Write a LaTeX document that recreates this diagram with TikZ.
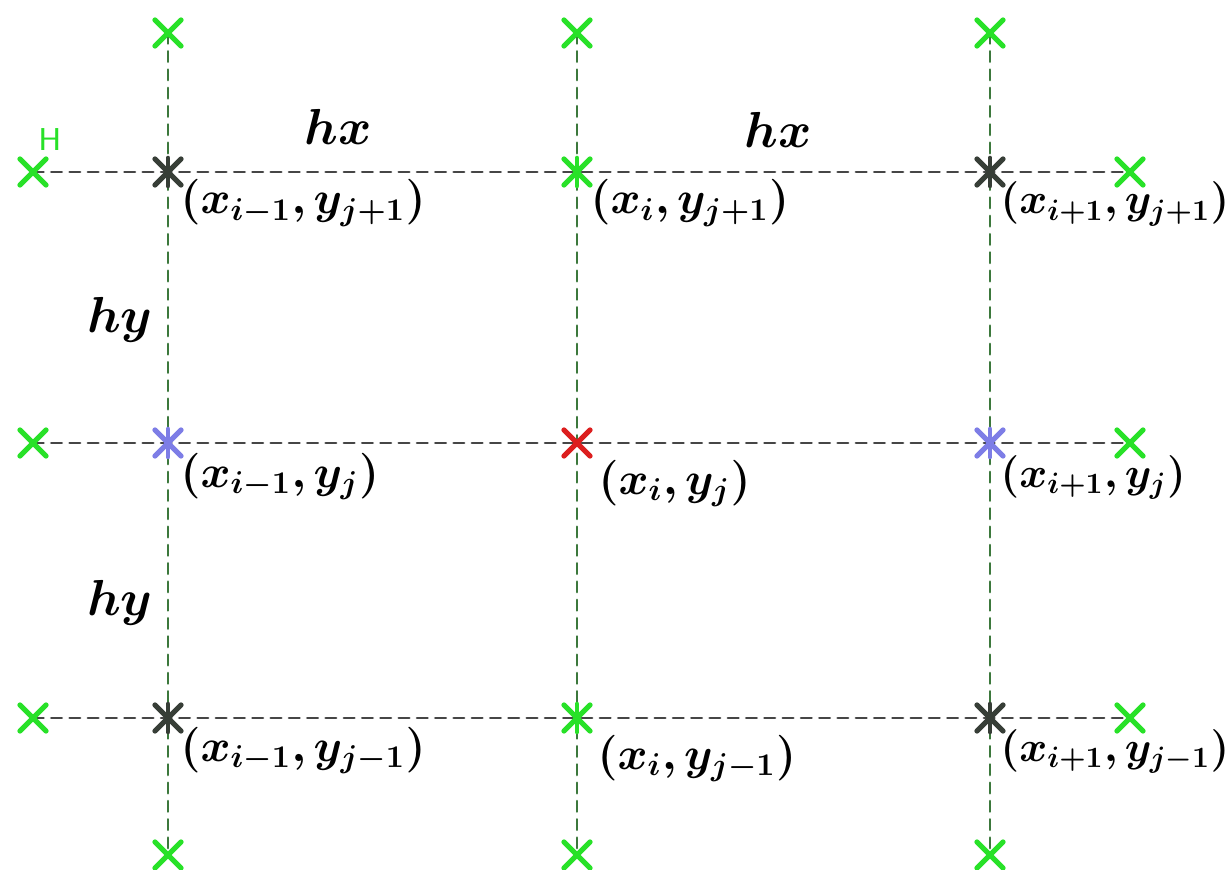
\documentclass[tikz,border=0pt]{standalone}
\usepackage{amsmath}
\usepackage{bm}
\usepackage{graphicx}
\definecolor{gridGreen}{RGB}{40,225,40}
\definecolor{gridDark}{RGB}{55,62,55}
\definecolor{gridBlue}{RGB}{125,125,230}
\definecolor{gridRed}{RGB}{220,30,30}
\definecolor{vertLine}{RGB}{60,120,60}
\definecolor{horzLine}{RGB}{70,70,70}
\tikzset{
  gridline/.style={line width=0.75pt, dash pattern=on 3pt off 2.2pt},
  lbl/.style={inner sep=0pt, anchor=base west, font=\Large},
}
% cross marker: #1 colour, #2 point
\newcommand{\gridcross}[2]{%
  \draw[#1, line width=1.5pt] ([shift={(-13,-13)}]#2) -- ([shift={(13,13)}]#2)
    ([shift={(-13,13)}]#2) -- ([shift={(13,-13)}]#2);}
% star marker: cross plus vertical bar
\newcommand{\gridstar}[2]{%
  \gridcross{#1}{#2}
  \draw[#1, line width=1.3pt] ([shift={(0,-14)}]#2) -- ([shift={(0,14)}]#2);}
% point labels, a bit narrower in the right column
\newcommand{\clbl}[1]{\scalebox{0.9}{$\bm{#1}$}}
\newcommand{\rlbl}[1]{\scalebox{0.84}{$\bm{#1}$}}
\begin{document}
\begin{tikzpicture}[x=0.01cm, y=-0.01cm, line cap=round]
\useasboundingbox (0,0) rectangle (1227,870);
% Grid points
\coordinate (p00) at (168,718);
\coordinate (p10) at (577,718);
\coordinate (p20) at (990,718);
\coordinate (p01) at (168,443);
\coordinate (p11) at (577,443);
\coordinate (p21) at (990,443);
\coordinate (p02) at (168,172);
\coordinate (p12) at (577,172);
\coordinate (p22) at (990,172);
% Ghost points outside the grid
\coordinate (t0) at (168,33);
\coordinate (t1) at (577,33);
\coordinate (t2) at (990,33);
\coordinate (b0) at (168,855);
\coordinate (b1) at (577,855);
\coordinate (b2) at (990,855);
\coordinate (l0) at (33,718);
\coordinate (l1) at (33,443);
\coordinate (l2) at (33,172);
\coordinate (r0) at (1130,718);
\coordinate (r1) at (1130,443);
\coordinate (r2) at (1130,172);
% Vertical lines
\begin{scope}[gridline, draw=vertLine]
  \draw (t0) -- (b0);
  \draw (t1) -- (b1);
  \draw (t2) -- (b2);
\end{scope}
% Horizontal lines
\begin{scope}[gridline, draw=horzLine]
  \draw (l0) -- (r0);
  \draw (l1) -- (r1);
  \draw (l2) -- (r2);
\end{scope}
% Markers
\foreach \p in {t0,t1,t2,b0,b1,b2,l0,l1,l2,r0,r1,r2} {\gridcross{gridGreen}{\p}}
\gridstar{gridDark}{p02}
\gridstar{gridDark}{p22}
\gridstar{gridDark}{p00}
\gridstar{gridDark}{p20}
\gridstar{gridGreen}{p12}
\gridstar{gridGreen}{p10}
\gridstar{gridBlue}{p01}
\gridstar{gridBlue}{p21}
\gridcross{gridRed}{p11}
% Labels
\node[text=gridGreen, font=\sffamily\small, inner sep=0pt] (hlbl) at (50,140) {H};
\node[lbl, anchor=center] (hx1) at (338,127) {$\bm{hx}$};
\node[lbl, anchor=center] (hx2) at (778,130) {$\bm{hx}$};
\node[lbl, anchor=center] (hy1) at (120,320) {$\bm{hy}$};
\node[lbl, anchor=center] (hy2) at (120,603) {$\bm{hy}$};
\node[lbl] (c02) at (180,214) {\clbl{(x_{i-1},y_{j+1})}};
\node[lbl] (c12) at (590,214) {\clbl{(x_{i},y_{j+1})}};
\node[lbl] (c22) at (1000,214) {\rlbl{(x_{i+1},y_{j+1})}};
\node[lbl] (c01) at (180,487) {\clbl{(x_{i-1},y_{j})}};
\node[lbl] (c11) at (598,494) {\clbl{(x_{i},y_{j})}};
\node[lbl] (c21) at (1000,487) {\rlbl{(x_{i+1},y_{j})}};
\node[lbl] (c00) at (180,761) {\clbl{(x_{i-1},y_{j-1})}};
\node[lbl] (c10) at (597,769) {\clbl{(x_{i},y_{j-1})}};
\node[lbl] (c20) at (1000,761) {\rlbl{(x_{i+1},y_{j-1})}};
\end{tikzpicture}
\end{document}
